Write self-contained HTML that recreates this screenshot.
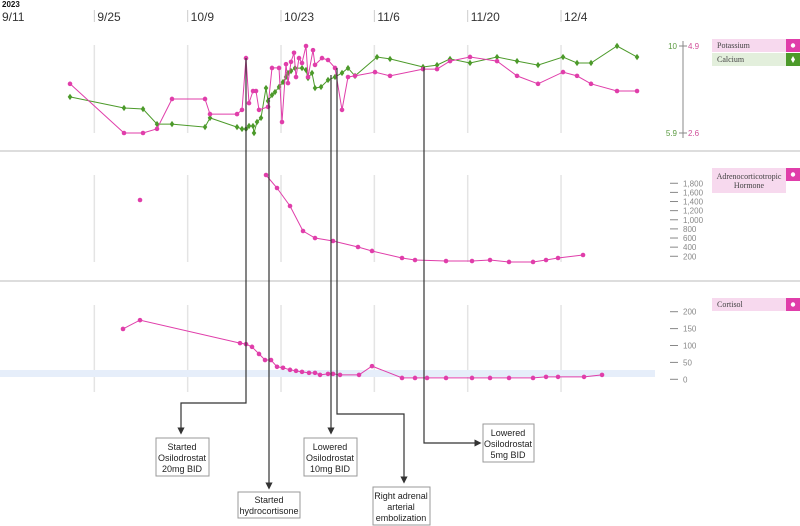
<!DOCTYPE html>
<html><head><meta charset="utf-8">
<style>
body{margin:0;background:#fff;width:800px;height:526px;overflow:hidden;font-family:"Liberation Sans",sans-serif}
svg{display:block}
.box{fill:#fff;stroke:#999;stroke-width:1}
.bt{font-family:"Liberation Sans",sans-serif;font-size:9px;fill:#222;text-anchor:middle}
.tk{font-size:8px;fill:#888}
.lg{font-family:"Liberation Serif",serif;font-size:8px;fill:#444}
</style></head><body>
<svg id="chart" width="800" height="526">
<defs><marker id="arr" markerWidth="6" markerHeight="6" refX="3" refY="3" orient="auto"><path d="M0,0 L6,3 L0,6 z" fill="#333"/></marker></defs>
<g id="grid"></g>
<rect x="0" y="370" width="655" height="7" fill="#e6eefa"/>
<line x1="0" y1="151" x2="800" y2="151" stroke="#bbb"/>
<line x1="0" y1="281" x2="800" y2="281" stroke="#bbb"/>
<text x="2" y="7" font-size="8" font-weight="bold" fill="#111">2023</text>
<g id="dates"></g>
<g id="marks"></g>
<g id="annot" stroke="#333" stroke-width="1.2" fill="none">
<polyline points="246,58 246,403 181,403 181,431" marker-end="url(#arr)"/>
<polyline points="269,98 269,486" marker-end="url(#arr)"/>
<polyline points="331,75 331,431" marker-end="url(#arr)"/>
<polyline points="337,68 337,414 404,414 404,480" marker-end="url(#arr)"/>
<polyline points="424,67 424,443 478,443" marker-end="url(#arr)"/>
</g>
<g><rect class="box" x="156" y="438" width="53" height="38"/><text class="bt" x="182" y="450">Started</text><text class="bt" x="182" y="461">Osilodrostat</text><text class="bt" x="182" y="472">20mg BID</text></g>
<g><rect class="box" x="238" y="492" width="62" height="26"/><text class="bt" x="269" y="503">Started</text><text class="bt" x="269" y="514">hydrocortisone</text></g>
<g><rect class="box" x="304" y="438" width="53" height="38"/><text class="bt" x="330" y="450">Lowered</text><text class="bt" x="330" y="461">Osilodrostat</text><text class="bt" x="330" y="472">10mg BID</text></g>
<g><rect class="box" x="373" y="487" width="57" height="38"/><text class="bt" x="401" y="499">Right adrenal</text><text class="bt" x="401" y="510">arterial</text><text class="bt" x="401" y="521">embolization</text></g>
<g><rect class="box" x="483" y="424" width="51" height="38"/><text class="bt" x="508" y="436">Lowered</text><text class="bt" x="508" y="447">Osilodrostat</text><text class="bt" x="508" y="458">5mg BID</text></g>
<g>
<line x1="683" y1="41" x2="683" y2="138" stroke="#888"/>
<line x1="679" y1="46" x2="687" y2="46" stroke="#888"/><line x1="679" y1="133" x2="687" y2="133" stroke="#888"/>
<text class="tk" x="677" y="49" text-anchor="end" fill="#4c9a2a" style="fill:#5a9a40">10</text>
<text class="tk" x="688" y="49" style="fill:#d0509a">4.9</text>
<text class="tk" x="677" y="136" text-anchor="end" style="fill:#5a9a40">5.9</text>
<text class="tk" x="688" y="136" style="fill:#d0509a">2.6</text>
</g>
<g id="ticks"></g>
<g><rect x="712" y="39" width="74" height="13" fill="#f7d9ee"/><text class="lg" x="717" y="48">Potassium</text><rect x="786" y="39" width="14" height="13" fill="#e03eaa"/><circle cx="793" cy="45.5" r="2.2" fill="#fff"/></g>
<g><rect x="712" y="53" width="74" height="13" fill="#e3efdc"/><text class="lg" x="717" y="62">Calcium</text><rect x="786" y="53" width="14" height="13" fill="#4c9a2a"/><path d="M793,56 L795,59.5 L793,63 L791,59.5z" fill="#fff"/></g>
<g><rect x="712" y="168" width="74" height="25" fill="#f7d9ee"/><text class="lg" x="749" y="179" text-anchor="middle">Adrenocorticotropic</text><text class="lg" x="749" y="188" text-anchor="middle">Hormone</text><rect x="786" y="168" width="14" height="13" fill="#e03eaa"/><circle cx="793" cy="174.5" r="2.2" fill="#fff"/></g>
<g><rect x="712" y="298" width="74" height="13" fill="#f7d9ee"/><text class="lg" x="717" y="307">Cortisol</text><rect x="786" y="298" width="14" height="13" fill="#e03eaa"/><circle cx="793" cy="304.5" r="2.2" fill="#fff"/></g>
</svg>
<script>
// days since 9/11/2023
const dateLabels=["9/11","9/25","10/9","10/23","11/6","11/20","12/4"];
const kDays=[10.35,18.45,21.3,23.4,25.65,30.6,31.35,35.4,36.15,36.75,37.2,37.8,38.25,38.7,40.05,40.65,41.7,42.15,42.75,43.05,43.5,43.95,44.25,44.7,45.15,45.75,46.05,46.8,47.1,48.15,49.05,50.1,51.15,52.05,53.1,56.1,58.35,63.3,65.4,67.35,70.35,74.4,77.4,80.55,84.3,86.4,88.5,92.4,95.4];
const kVals=[3.90,2.60,2.60,2.71,3.50,3.50,3.10,3.10,3.21,4.58,3.39,3.71,3.71,3.21,3.29,4.32,4.32,2.89,4.42,3.92,4.48,4.72,4.08,4.58,4.45,4.90,4.08,4.79,4.40,4.58,4.53,4.32,3.21,4.08,4.11,4.21,4.11,4.29,4.29,4.50,4.61,4.50,4.11,3.90,4.21,4.11,3.90,3.71,3.71];
const caDays=[10.35,18.45,21.3,23.4,25.65,30.6,31.35,35.4,36.15,36.75,37.2,37.8,37.95,38.4,39.0,39.75,40.05,40.65,41.1,41.7,42.3,42.75,43.05,43.5,44.1,45.15,45.75,46.05,46.65,47.1,48.0,49.05,50.1,51.15,52.05,53.1,56.4,58.35,63.3,65.4,67.35,70.35,74.4,77.4,80.55,84.3,86.4,88.5,92.4,95.4];
const caVals=[7.60,7.08,7.03,6.32,6.32,6.18,6.61,6.18,6.09,6.09,6.23,6.23,5.90,6.42,6.61,8.02,7.41,7.69,7.83,8.07,8.30,8.54,8.73,8.82,8.96,8.96,8.87,8.49,8.73,8.02,8.07,8.40,8.54,8.73,8.96,8.59,9.48,9.39,9.01,9.10,9.39,9.20,9.48,9.29,9.10,9.48,9.20,9.20,10.0,9.48];
const acthIsoDay=[20.85];
const acthIsoVal=[1433];
const acthDays=[39.75,41.4,43.35,45.3,47.1,49.8,53.55,55.65,60.15,62.1,66.75,70.65,73.35,76.2,79.8,81.75,83.55,87.3];
const acthVals=[1981,1696,1302,754,600,535,403,316,162,118,96,96,118,75,75,118,162,228];
const acthTicks=[1800,1600,1400,1200,1000,800,600,400,200];
const cortDays=[18.3,20.85,35.85,36.75,37.65,38.7,39.6,40.5,41.4,42.3,43.35,44.25,45.15,46.2,47.1,47.85,49.05,49.8,50.85,53.7,55.65,60.15,62.1,63.9,66.75,70.65,73.35,76.2,79.8,81.75,83.55,87.45,90.15];
const cortVals=[149,175,107,104,96,75,57,57,37,34,28,25,22,19,19,13,16,16,13,13,39,4,4,4,4,4,4,4,4,7,7,7,13];
const cortTicks=[200,150,100,50,0];

const NS="http://www.w3.org/2000/svg";
const X=d=>1+d*6.667;
const yK=v=>133-(v-2.6)/2.3*87;
const yCa=v=>133-(v-5.9)/4.1*87;
const yA=v=>265.4-v*0.04563;
const yC=v=>379.3-v*0.338;
function mk(tag,attrs,parent){const e=document.createElementNS(NS,tag);for(const k in attrs)e.setAttribute(k,attrs[k]);document.getElementById(parent).appendChild(e);return e;}
const PINK="#e03eaa",GREEN="#4c9a2a";
// gridlines
[1,2,3,4,5,6].forEach(i=>{
 const gx=X(i*14);
 [[45,133],[175,262],[305,392]].forEach(r=>{
  const l=mk('line',{x1:gx,x2:gx,y1:r[0],y2:r[1],stroke:'#e4e4e4','stroke-width':1.5},'grid');
  
  
 });
});
dateLabels.forEach((s,i)=>{
 const dx=X(i*14);
 if(i>0){const l=mk('line',{x1:dx,x2:dx,y1:10,y2:22,stroke:'#ccc'},'dates');
  
  }
 const t=mk('text',{x:i?dx+3:2,y:21,'font-size':12,fill:'#333'},'dates');
 t.textContent=s;
 
 
});
function series(days,vals,yf,color,name,diamond){
 const pts=days.map((d,i)=>X(d).toFixed(1)+','+yf(vals[i]).toFixed(1)).join(' ');
 const pl=mk('polyline',{points:pts,fill:'none',stroke:color,'stroke-width':1},'marks');
 
 
 days.forEach((d,i)=>{
  const x=X(d),y=yf(vals[i]);let p;
  if(diamond)p=mk('path',{d:`M${x},${y-3.2}L${x+2.3},${y}L${x},${y+3.2}L${x-2.3},${y}Z`,fill:color},'marks');
  else p=mk('circle',{cx:x,cy:y,r:2.3,fill:color},'marks');
  
  
 });
}
series(caDays,caVals,yCa,GREEN,'calcium',true);
series(kDays,kVals,yK,PINK,'potassium',false);
series(acthIsoDay,acthIsoVal,yA,PINK,'acth-early',false);
series(acthDays,acthVals,yA,PINK,'acth',false);
series(cortDays,cortVals,yC,PINK,'cortisol',false);
function ticks(arr,yf,name){
 arr.forEach(v=>{
  const y=yf(v);
  const l=mk('line',{x1:670,x2:678,y1:y,y2:y,stroke:'#888'},'ticks');
  
  
  const t=mk('text',{x:683,y:y+3,class:'tk'},'ticks');
  t.textContent=v.toLocaleString('en-US');
  
  
 });
}
ticks(acthTicks,yA,'acth-axis');
ticks(cortTicks,yC,'cortisol-axis');
</script>
</body></html>
